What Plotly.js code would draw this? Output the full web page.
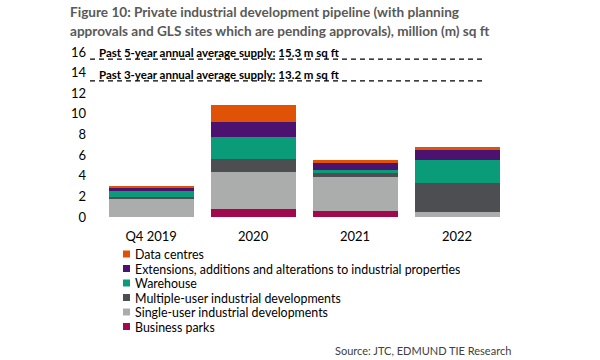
<!DOCTYPE html>
<html>
<head>
<meta charset="utf-8">
<script src="https://cdn.plot.ly/plotly-3.0.1.min.js"></script>
<style>html,body{margin:0;padding:0;background:#fff;}#chart{width:600px;height:360px;}</style>
</head>
<body>
<div id="chart"></div>
<script>
// ---- data ----
const categories = ['Q4 2019', '2020', '2021', '2022'];
const businessParks = [0, 0.74, 0.58, 0];
const singleUser   = [1.75, 3.65, 3.30, 0.48];
const multiUser    = [0.23, 1.20, 0.42, 2.81];
const warehouse    = [0.55, 2.17, 0.23, 2.20];
const extensions   = [0.29, 1.49, 0.74, 0.97];
const dataCentres  = [0.19, 1.58, 0.23, 0.29];
const seriesNames = ['Business parks', 'Single-user industrial developments', 'Multiple-user industrial developments',
  'Warehouse', 'Extensions, additions and alterations to industrial properties', 'Data centres'];
const seriesValues = [businessParks, singleUser, multiUser, warehouse, extensions, dataCentres];
const seriesColors = ['#A0094E', '#ABACAC', '#4D4E52', '#0A9B78', '#4B1270', '#E05206'];
const avgLabels = ['Past 5-year annual average supply: 15.3 m sq ft', 'Past 3-year annual average supply: 13.2 m sq ft'];
const avgValues = [15.3, 13.2];
const yTicks = [0, 2, 4, 6, 8, 10, 12, 14, 16];

// ---- layout helpers (pixel -> paper) ----
const L = 90, R = 92, T = 52, B = 143, W = 600, H = 360;
const pw = W - L - R, ph = H - T - B;
const px = x => (x - L) / pw;
const py = y => (H - B - y) / ph;
const font = 'Lato, "Open Sans", sans-serif';

const traces = seriesNames.map((n, i) => ({
  type: 'bar', name: n, x: categories, y: seriesValues[i],
  marker: {color: seriesColors[i], line: {width: 0}},
  showlegend: false, hoverinfo: 'x+y+name'
}));

const shapes = avgValues.map(v => ({
  type: 'line', xref: 'x', yref: 'y', x0: -0.6, x1: 3.274, y0: v, y1: v,
  line: {color: '#000', width: 1.3, dash: '5px,4px'}
}));

const annotations = [
  {text: 'Figure 10: Private industrial development pipeline (with planning', x: px(68), y: py(12)},
  {text: 'approvals and GLS sites which are pending approvals), million (m) sq ft', x: px(68), y: py(31)}
].map(a => Object.assign(a, {xref: 'paper', yref: 'paper', xanchor: 'left', yanchor: 'middle', showarrow: false,
  font: {family: font, size: 13.6, color: '#595959', weight: 'bold'}}));

avgLabels.forEach((t, i) => annotations.push({
  text: t, xref: 'paper', yref: 'paper', x: px(97), y: py(i === 0 ? 52.5 : 74),
  xanchor: 'left', yanchor: 'middle', showarrow: false,
  font: {family: font, size: 11.5, color: '#000', weight: 'bold'}
}));

// legend (top row = last series)
const legendRows = [254, 268.5, 283, 297.5, 312, 326.5];
for (let k = 0; k < seriesNames.length; k++) {
  const i = seriesNames.length - 1 - k;
  const yc = legendRows[k];
  shapes.push({type: 'rect', xref: 'paper', yref: 'paper', x0: px(123), x1: px(130), y0: py(yc + 3.5), y1: py(yc - 3.5),
    fillcolor: seriesColors[i], line: {width: 0}});
  annotations.push({text: seriesNames[i], xref: 'paper', yref: 'paper', x: px(133), y: py(yc),
    xanchor: 'left', yanchor: 'middle', showarrow: false, height: 14,
    font: {family: font, size: 12.4, color: '#000'}});
}

annotations.push({text: 'Source: JTC, EDMUND TIE Research', xref: 'paper', yref: 'paper', x: px(513), y: py(350),
  xanchor: 'right', yanchor: 'middle', showarrow: false, font: {family: font, size: 11, color: '#404040'}});

const layout = {
  width: W, height: H, margin: {l: L, r: R, t: T, b: B, pad: 0},
  paper_bgcolor: '#fff', plot_bgcolor: '#fff',
  barmode: 'stack', bargap: 0.166,
  showlegend: false,
  xaxis: {type: 'category', range: [-0.6, 3.5], showgrid: false, zeroline: false, showline: false, ticks: '',
    tickfont: {family: font, size: 13, color: '#000'}, ticklabelstandoff: 10, fixedrange: true},
  yaxis: {range: [0, 16], tickvals: yTicks, showgrid: false, zeroline: false, showline: false, ticks: '',
    tickfont: {family: font, size: 13, color: '#000'}, ticklabelstandoff: 3, fixedrange: true},
  shapes: shapes, annotations: annotations
};

Plotly.newPlot('chart', traces, layout, {displayModeBar: false, staticPlot: true});
</script>
</body>
</html>
